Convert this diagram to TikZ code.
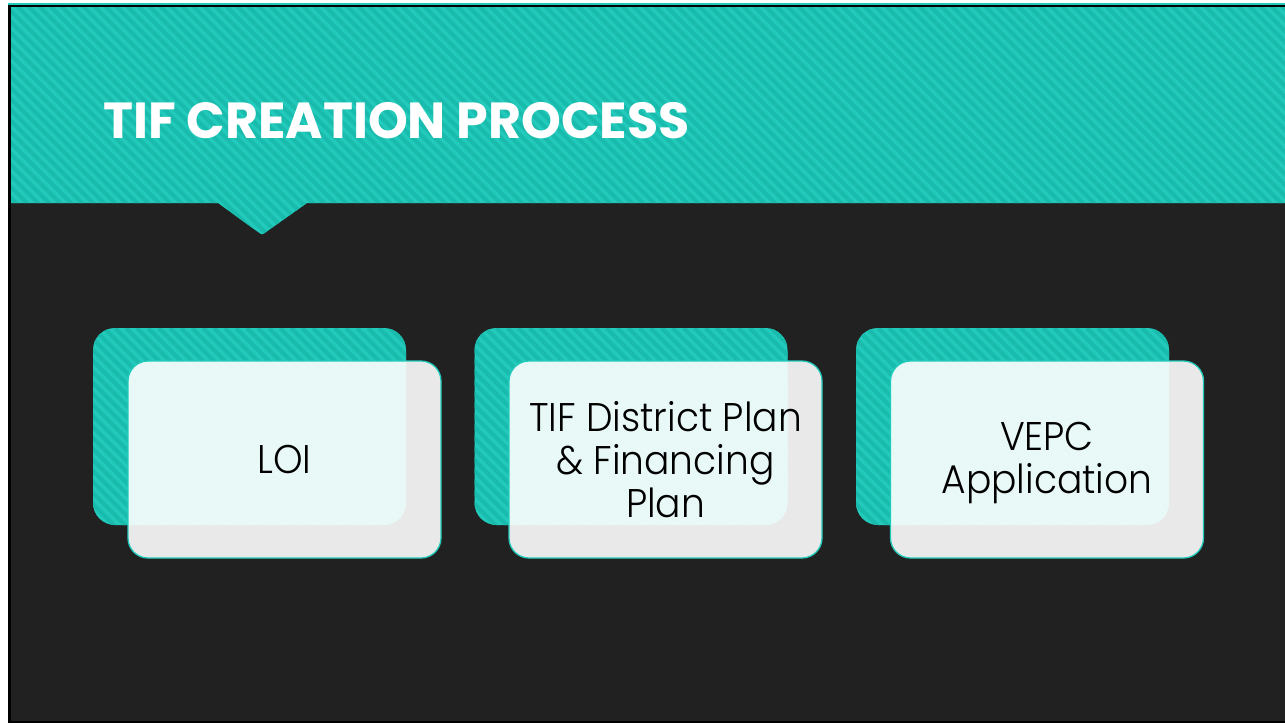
\documentclass[tikz,border=0pt]{standalone}
\usepackage{fontspec}
\setmainfont{Poppins}
\newfontfamily\lightfont[FakeStretch=0.94]{Poppins Light}
\definecolor{tealA}{HTML}{22CABB}
\definecolor{tealB}{HTML}{19BBAD}
\definecolor{darkbg}{HTML}{212121}
\begin{document}
\begin{tikzpicture}[x=1pt,y=-1pt,
  stripes/.style={path picture={
    \foreach \k in {-20,...,32}{
      \draw[tealB,line width=4pt]
        ([xshift={\k*11pt}]path picture bounding box.north west) -- ++(300,300);
    }}},
  backbox/.style={fill=tealA,rounded corners=22pt,minimum width=313pt,
    minimum height=197pt,inner sep=0pt,stripes},
  frontbox/.style={fill=white,fill opacity=0.9,text opacity=1,draw=tealA,
    line width=1.3pt,rounded corners=20pt,minimum width=313pt,
    minimum height=197pt,inner sep=0pt,align=center,text=black,
    font=\lightfont\fontsize{40}{43}\selectfont},
  titletext/.style={text=white,font=\bfseries\fontsize{50.7}{60}\selectfont,
    anchor=base west,inner sep=0pt}
]
\useasboundingbox (0,0) rectangle (1285,723);
\fill[white] (0,0) rectangle (1285,723);
\fill[tealA] (8,3) rectangle (1285,4.6);
\fill[black] (8,4.6) rectangle (1285,723);
\fill[darkbg] (11,7) rectangle (1285,721);
% header band with notch
\fill[tealA] (11,7) -- (1285,7) -- (1285,203) -- (307,203) -- (266,232)
  .. controls (262,235) .. (258,232) -- (218,203) -- (11,203) -- cycle;
\begin{scope}
\clip (11,7) -- (1285,7) -- (1285,203) -- (307,203) -- (266,232)
  .. controls (262,235) .. (258,232) -- (218,203) -- (11,203) -- cycle;
\foreach \k in {-22,...,120}{
  \draw[tealB,line width=4pt] (\k*11,0) -- ++(245,245);
}
\end{scope}
\node[titletext] (title) at (103,138) {TIF CREATION PROCESS};
% boxes
\node[backbox] (b1) at (249.5,426.5) {};
\node[backbox] (b2) at (631,426.5) {};
\node[backbox] (b3) at (1012.5,426.5) {};
\node[frontbox] (f1) at (284.5,459.5) {LOI};
\node[frontbox] (f2) at (665.5,459.5) {TIF District Plan\\\& Financing\\Plan};
\node[frontbox] (f3) at (1047,459.5) {\raisebox{-4pt}[\height][\depth]{\parbox{300pt}{\centering VEPC\\Application}}};
\end{tikzpicture}
\end{document}
